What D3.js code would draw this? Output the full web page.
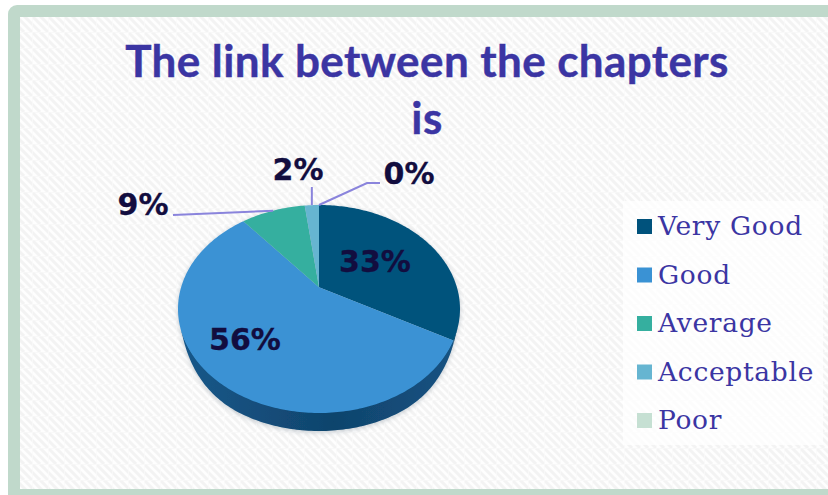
<!DOCTYPE html>
<html><head><meta charset="utf-8">
<style>html,body{margin:0;padding:0;background:#fff;overflow:hidden}svg{display:block}</style>
<script src="https://cdn.jsdelivr.net/npm/d3@7"></script></head><body>
<script>
const titleLines = ["The link between the chapters", "is"];
const categories = ["Very Good", "Good", "Average", "Acceptable", "Poor"];
const values = [33, 56, 9, 2, 0];
const colors = ["#00527c", "#3a92d4", "#35af9f", "#66b5d1", "#c6e0d3"];
const wallColors = ["#0a4468", "#17588a", "#1f7a70", "#3a7f98", "#7fa596"];

const W = 828, H = 495;
const svg = d3.select("body").append("svg").attr("width", W).attr("height", H);
const defs = svg.append("defs");

// background hatch
const pat = defs.append("pattern").attr("id", "hatch").attr("patternUnits", "userSpaceOnUse").attr("width", 16).attr("height", 16);
pat.append("rect").attr("width", 16).attr("height", 16).attr("fill", "#fefefe");
d3.range(-16, 16, 8).forEach(o =>
  pat.append("line").attr("x1", o).attr("y1", 0).attr("x2", o + 16).attr("y2", 16).attr("stroke", "#f3f3f3").attr("stroke-width", 3));
pat.append("line").attr("x1",0).attr("y1",0).attr("x2",16).attr("y2",0).attr("stroke","#f8f8f8").attr("stroke-width",1.5);
pat.append("line").attr("x1",0).attr("y1",0).attr("x2",0).attr("y2",16).attr("stroke","#fafafa").attr("stroke-width",1.5);

const soft = defs.append("filter").attr("id", "soft").attr("x", "-5%").attr("y", "-5%").attr("width", "110%").attr("height", "110%");
soft.append("feGaussianBlur").attr("stdDeviation", 0.5);

svg.append("rect").attr("width", W).attr("height", H).attr("fill", "#fff");
svg.append("rect").attr("x", 8).attr("y", 5).attr("width", W + 20).attr("height", H + 20).attr("rx", 9).attr("fill", "#c0d9cb");
svg.append("rect").attr("x", 20).attr("y", 17).attr("width", W).attr("height", 472).attr("fill", "url(#hatch)");

// title
svg.append("g").selectAll("text").data(titleLines).join("text")
  .attr("x", 427).attr("y", (d, i) => 77 + i * 57)
  .attr("text-anchor", "middle")
  .attr("font-family", "Lato").attr("font-weight", 700).attr("font-size", 44)
  .attr("letter-spacing", 0.4).attr("stroke", "#3b35a3").attr("stroke-width", 0.4)
  .attr("fill", "#3b35a3").text(d => d);

// pie geometry: circle boosted so the apex sits above the ellipse centre
const cx = 319, cy = 309, rx = 141, ry = 104, depth = 18, e = -0.21;
const sx = d3.scaleLinear().domain([-1, 1]).range([cx - rx, cx + rx]);
const sy = d3.scaleLinear().domain([-1, 1]).range([cy - ry, cy + ry]);
const k = Math.sqrt(1 - e * e);
function proj(a, r = 1) {
  const x = r * Math.sin(a), y = -r * Math.cos(a), d = 1 + e * y;
  return [sx(x * k / d), sy((y + e) / d), (y + e) / d];
}
const arcs = d3.pie().sort(null).value(d => d)(values);
function samples(a0, a1) {
  const n = Math.max(2, Math.ceil((a1 - a0) * 60));
  return d3.range(n + 1).map(i => proj(a0 + (a1 - a0) * i / n));
}
const line = d3.line();
// wall height tapers out towards the sides of the disc
const taper = d3.scaleLinear().domain([0.24, 0.85]).range([0, 1]).clamp(true);
const wallDepth = p => { const t = taper(p[2]); return depth * t * (2 - t); };

// soft shadow following the lower silhouette
const blur = defs.append("filter").attr("id", "blur").attr("x", "-10%").attr("y", "-10%").attr("width", "120%").attr("height", "120%");
blur.append("feGaussianBlur").attr("stdDeviation", 2.5);
const outline = samples(0, 2 * Math.PI).map(p => [p[0], p[1] + wallDepth(p) + 1.5]);
svg.append("path").attr("d", line(outline) + "Z").attr("fill", "#8d9aa6").attr("opacity", 0.5).attr("filter", "url(#blur)");

const pieG = svg.append("g").attr("filter", "url(#soft)");

// walls
const wallShade = defs.append("linearGradient").attr("id", "wallShade").attr("gradientUnits", "userSpaceOnUse")
  .attr("x1", cx - rx).attr("x2", cx + rx).attr("y1", 0).attr("y2", 0);
[[0, 0.0], [0.15, 0.1], [0.55, 0.38], [1, 0.1]].forEach(s =>
  wallShade.append("stop").attr("offset", s[0]).attr("stop-color", "#04233c").attr("stop-opacity", s[1]));
const wallG = pieG.append("g");
arcs.forEach((d, i) => {
  const pts = samples(d.startAngle, d.endAngle).filter(p => p[2] >= 0.2);
  if (pts.length < 2) return;
  const top = pts.map(p => [p[0], p[1] - 1]);
  const bot = pts.map(p => [p[0], p[1] + wallDepth(p)]).reverse();
  const path = line(top.concat(bot)) + "Z";
  wallG.append("path").attr("d", path).attr("fill", wallColors[i]);
  wallG.append("path").attr("d", path).attr("fill", "url(#wallShade)");
});

// top faces
const apex = proj(0, 0);
pieG.append("g").selectAll("path").data(arcs).join("path")
  .attr("d", d => line([[apex[0], apex[1]]].concat(samples(d.startAngle, d.endAngle).map(p => [p[0], p[1]]))) + "Z")
  .attr("fill", (d, i) => colors[i]);

// leader lines, anchored on the slice mid-angle
const mid = d => (d.startAngle + d.endAngle) / 2;
const leaders = [
  { i: 2, pts: p => [[173, 215], [p[0], p[1]]] },
  { i: 3, pts: p => [[p[0], 187], [p[0], p[1]]] },
  { i: 4, pts: p => [[380, 183], [367, 183], [p[0], p[1]]] }
];
svg.append("g").selectAll("path").data(leaders).join("path")
  .attr("d", l => line(l.pts(proj(mid(arcs[l.i])))))
  .attr("fill", "none").attr("stroke", "#8a84dc").attr("stroke-width", 2);

// value labels
const labelAt = [[375, 272], [245, 350], [143, 215], [298, 180], [409, 184]];
svg.append("g").selectAll("text").data(values).join("text")
  .attr("x", (d, i) => labelAt[i][0]).attr("y", (d, i) => labelAt[i][1])
  .attr("text-anchor", "middle")
  .attr("font-family", "'DejaVu Sans'").attr("font-weight", 700).attr("font-size", 30)
  .attr("stroke", "#120d3f").attr("stroke-width", 0.3)
  .attr("fill", "#120d3f").text(d => d + "%");

// legend
svg.append("rect").attr("x", 623).attr("y", 201).attr("width", 200).attr("height", 244).attr("fill", "#fff").attr("opacity", 0.7);
const legY = d3.scalePoint().domain(categories).range([235, 429]);
const leg = svg.append("g").selectAll("g").data(categories).join("g")
  .attr("transform", d => `translate(0,${legY(d)})`);
leg.append("rect").attr("x", 637).attr("y", -16).attr("width", 15).attr("height", 15)
  .attr("fill", (d, i) => colors[i]);
leg.append("text").attr("x", 658).attr("y", 0)
  .attr("font-family", "'DejaVu Serif'").attr("font-size", 26.5).attr("fill", "#3b35a3")
  .attr("letter-spacing", 0.7).text(d => d);
</script></body></html>
